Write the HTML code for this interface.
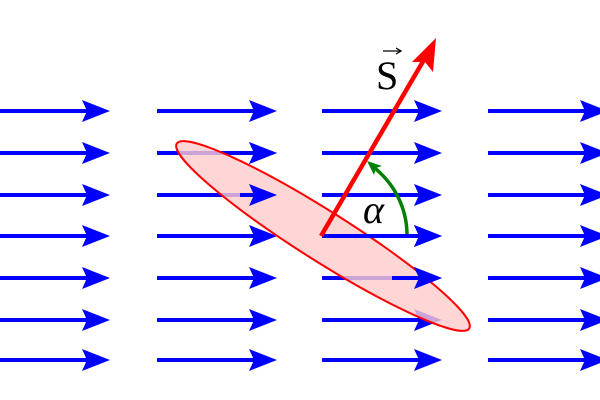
<!DOCTYPE html>
<html><head><style>html,body{margin:0;padding:0;background:#fff}svg{display:block}</style></head>
<body>
<svg width="600" height="400" viewBox="0 0 600 400" xmlns="http://www.w3.org/2000/svg">
<defs>
<g id="a"><line x1="0" y1="0" x2="100" y2="0" stroke="#0000ff" stroke-width="4"/><path d="M92,-11 L120,0 L92,11 L97,0 Z" fill="#0000ff"/></g>
<clipPath id="c1"><rect x="240" y="140" width="50" height="70"/><rect x="322" y="225" width="130" height="22"/><rect x="392" y="265" width="60" height="25"/></clipPath>
</defs>
<g>
<use href="#a" x="-10" y="111"/><use href="#a" x="157" y="111"/><use href="#a" x="322" y="111"/><use href="#a" x="488" y="111"/>
<use href="#a" x="-10" y="153"/><use href="#a" x="157" y="153"/><use href="#a" x="322" y="153"/><use href="#a" x="488" y="153"/>
<use href="#a" x="-10" y="195"/><use href="#a" x="157" y="195"/><use href="#a" x="322" y="195"/><use href="#a" x="488" y="195"/>
<use href="#a" x="-10" y="236"/><use href="#a" x="157" y="236"/><use href="#a" x="322" y="236"/><use href="#a" x="488" y="236"/>
<use href="#a" x="-10" y="278"/><use href="#a" x="157" y="278"/><use href="#a" x="322" y="278"/><use href="#a" x="488" y="278"/>
<use href="#a" x="-10" y="320"/><use href="#a" x="157" y="320"/><use href="#a" x="322" y="320"/><use href="#a" x="488" y="320"/>
<use href="#a" x="-10" y="360"/><use href="#a" x="157" y="360"/><use href="#a" x="322" y="360"/><use href="#a" x="488" y="360"/>
</g>
<ellipse cx="323" cy="236" rx="173" ry="25" transform="rotate(32.3 323 236)" fill="#ffcccc" fill-opacity="0.8" stroke="#ff0000" stroke-width="2"/>
<g clip-path="url(#c1)">
<use href="#a" x="157" y="153"/><use href="#a" x="157" y="195"/>
<use href="#a" x="322" y="236"/><use href="#a" x="322" y="278"/>
</g>
<path d="M407,234 A86,86 0 0 0 372,166" fill="none" stroke="#008000" stroke-width="3.5"/>
<path d="M367,161 L382,166 L376,168 L374,175 Z" fill="#008000"/>
<line x1="321" y1="236" x2="425" y2="58" stroke="#ff0000" stroke-width="4.5"/>
<path d="M436,38 L433,72 L425,62 L412,62 Z" fill="#ff0000"/>
<text x="363" y="223" font-family="Liberation Serif, serif" font-style="italic" font-size="40">α</text>
<text x="376" y="89" font-family="Liberation Serif, serif" font-size="40">S</text>
<line x1="383" y1="51" x2="400" y2="51" stroke="#000" stroke-width="1.3"/>
<path d="M396,48 L401,51 L396,54" fill="none" stroke="#000" stroke-width="1.3"/>
</svg>
</body></html>
